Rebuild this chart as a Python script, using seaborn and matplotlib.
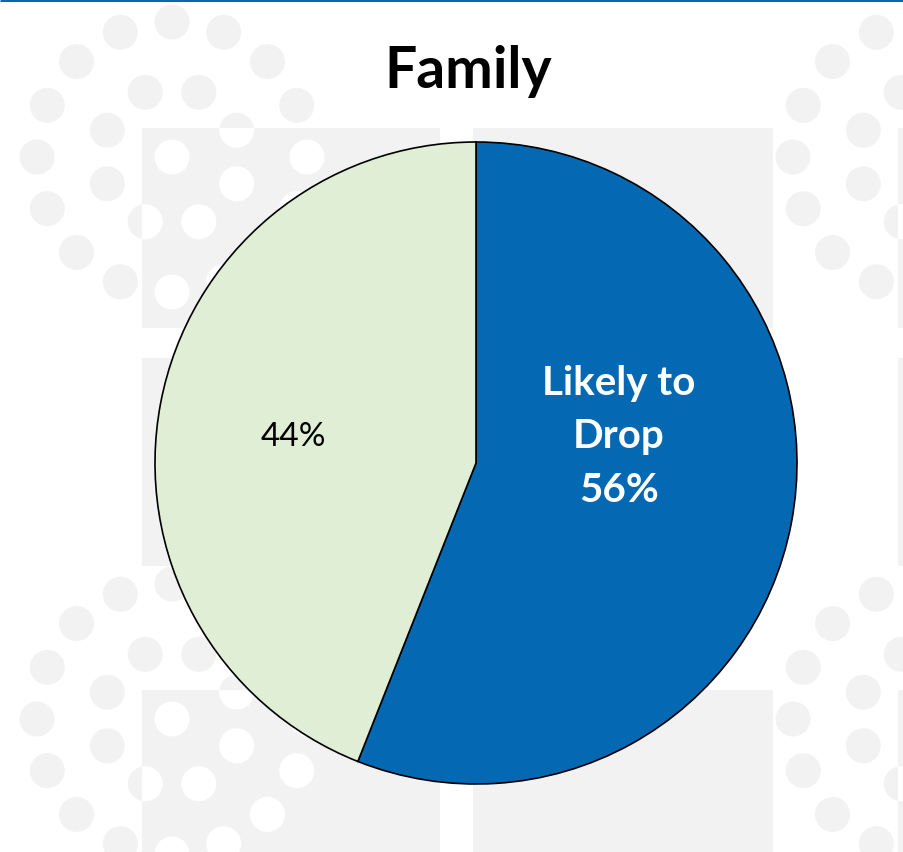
import numpy as np
import matplotlib
matplotlib.use("Agg")
import matplotlib.pyplot as plt
import matplotlib.patches as mpatches
import seaborn as sns

# chart data
categories = ["Likely to Drop", "Not likely to drop"]
shares = [56, 44]
slice_colors = ["#0568B3", "#DFEED4"]
label_texts = ["Likely to\nDrop\n56%", "44%"]
chart_title = "Family"

sns.set_theme(style="white")
plt.rcParams['font.family'] = ['Lato', 'DejaVu Sans']

W, H = 904, 853
fig = plt.figure(figsize=(W / 100, H / 100), dpi=100)
fig.patch.set_facecolor("white")

# decorative background (dot rings + light squares), in pixel coords
bg = fig.add_axes([0, 0, 1, 1], zorder=0)
bg.set_xlim(0, W)
bg.set_ylim(H, 0)
bg.axis("off")

grey = "#F2F2F2"
squares = [(142, 129, 298, 200), (473, 129, 300, 200), (898, 129, 300, 200),
           (142, 359, 298, 208), (898, 359, 300, 208),
           (142, 691, 298, 200), (473, 691, 300, 200), (898, 691, 300, 200)]
ring_centres = [(172, 158), (172, 720), (928, 158), (928, 720)]
dots = []
for cx, cy in ring_centres:
    dots.append((cx, cy))
    for k in range(8):
        a = np.deg2rad(22.5 + 45 * k)
        dots.append((cx + 70 * np.cos(a), cy - 70 * np.sin(a)))
    for k in range(16):
        a = np.deg2rad(22.5 * k)
        dots.append((cx + 135 * np.cos(a), cy - 135 * np.sin(a)))

for x, y in dots:
    bg.add_patch(mpatches.Circle((x, y), 17.5, color=grey, lw=0))
for sx, sy, sw, sh in squares:
    rect = mpatches.Rectangle((sx, sy), sw, sh, color=grey, lw=0)
    bg.add_patch(rect)
    for x, y in dots:
        c = mpatches.Circle((x, y), 17.5, color="white", lw=0)
        bg.add_patch(c)
        c.set_clip_path(rect)

# thin blue rule at the top
bg.plot([0, W], [1, 1], color="#0568B3", lw=2.2, solid_capstyle="butt")

# pie
cx, cy, r = 476, 464, 321
ax = fig.add_axes([(cx - r) / W, 1 - (cy + r) / H, 2 * r / W, 2 * r / H], zorder=1)
ax.patch.set_alpha(0)
ax.pie(shares, colors=slice_colors, startangle=90, counterclock=False,
       wedgeprops=dict(edgecolor="black", linewidth=1.2))
ax.set_xlim(-1, 1)
ax.set_ylim(-1, 1)
ax.set_aspect("equal")

ax.text(0.445, 0.085, label_texts[0], ha="center", va="center", color="white",
        fontsize=29, fontweight="bold", linespacing=1.55)
ax.text(-0.57, 0.084, label_texts[1], ha="center", va="center", color="black",
        fontsize=24)

fig.text(468 / W, 1 - 88 / H, chart_title, ha="center", va="baseline",
         fontsize=41, fontweight="bold", color="black")

fig.savefig("out.png", dpi=100)
